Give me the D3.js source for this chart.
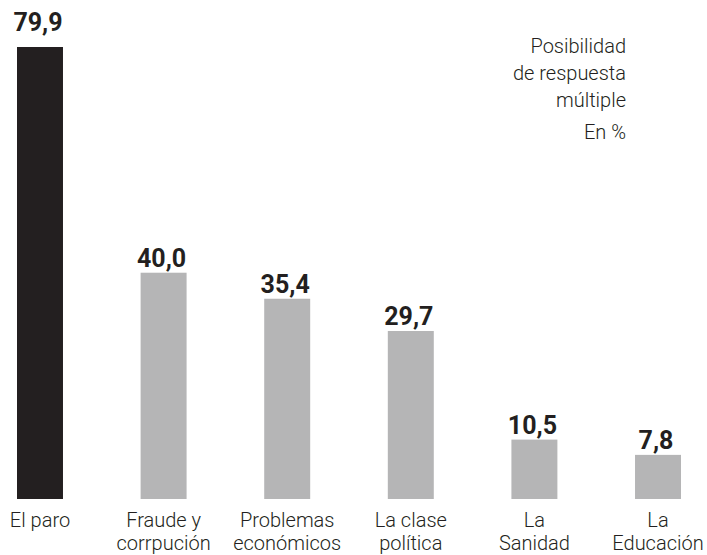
<!DOCTYPE html>
<html lang="es">
<head>
<meta charset="utf-8">
<title>Problemas principales</title>
<script src="https://d3js.org/d3.v7.min.js"></script>
<style>
  body { margin: 0; background: #fff; }
  text { font-family: Roboto, "DejaVu Sans Condensed", sans-serif; fill: #231f20; }
  .val { font-weight: 700; }
  .cat, .note { font-weight: 300; }
</style>
</head>
<body>
<script>
// categories (each label split into lines)
var categories = [
  ["El paro"],
  ["Fraude y", "corrpución"],
  ["Problemas", "económicos"],
  ["La clase", "política"],
  ["La", "Sanidad"],
  ["La", "Educación"]
];
var values = [79.9, 40.0, 35.4, 29.7, 10.5, 7.8];
var noteLines = ["Posibilidad", "de respuesta", "múltiple"];
var unitLabel = "En %";

var width = 707, height = 555;
var baseline = 499;

var svg = d3.select("body").append("svg")
  .attr("width", width)
  .attr("height", height);

var x = d3.scaleBand()
  .domain(d3.range(values.length))
  .range([17, 681])
  .paddingInner(0.628)
  .paddingOuter(0);

var y = d3.scaleLinear()
  .domain([0, d3.max(values)])
  .range([baseline, 47]);

var fmt = function(v) { return d3.format(".1f")(v).replace(".", ","); };

var bar = svg.selectAll(".bar")
  .data(values)
  .enter()
  .append("g")
  .attr("class", "bar");

bar.append("rect")
  .attr("x", function(d, i) { return x(i); })
  .attr("y", function(d) { return y(d); })
  .attr("width", x.bandwidth())
  .attr("height", function(d) { return baseline - y(d); })
  .style("fill", function(d, i) { return i === 0 ? "#231f20" : "#b5b5b6"; });

bar.append("text")
  .attr("class", "val")
  .attr("x", function(d, i) { return x(i) + x.bandwidth() / 2 - 2; })
  .attr("y", function(d, i) { return y(d) - (i === 0 ? 16 : 6); })
  .attr("text-anchor", "middle")
  .attr("font-size", 25)
  .text(fmt);

// category labels under bars
var cat = svg.selectAll(".cat")
  .data(categories)
  .enter()
  .append("text")
  .attr("class", "cat")
  .attr("text-anchor", "middle")
  .attr("font-size", 20)
  .attr("x", function(d, i) { return x(i) + x.bandwidth() / 2; })
  .attr("y", 527);

cat.selectAll("tspan")
  .data(function(d) { return d; })
  .enter()
  .append("tspan")
  .attr("x", function() { return d3.select(this.parentNode).attr("x"); })
  .attr("dy", function(d, i) { return i === 0 ? 0 : 23; })
  .text(function(d) { return d; });

// note on the right
svg.selectAll(".note")
  .data(noteLines)
  .enter()
  .append("text")
  .attr("class", "note")
  .attr("text-anchor", "end")
  .attr("font-size", 20)
  .attr("x", 626)
  .attr("y", function(d, i) { return 53 + i * 27; })
  .text(function(d) { return d; });

svg.append("text")
  .attr("class", "note")
  .attr("text-anchor", "end")
  .attr("font-size", 20)
  .attr("x", 626)
  .attr("y", 139)
  .text(unitLabel);
</script>
</body>
</html>
